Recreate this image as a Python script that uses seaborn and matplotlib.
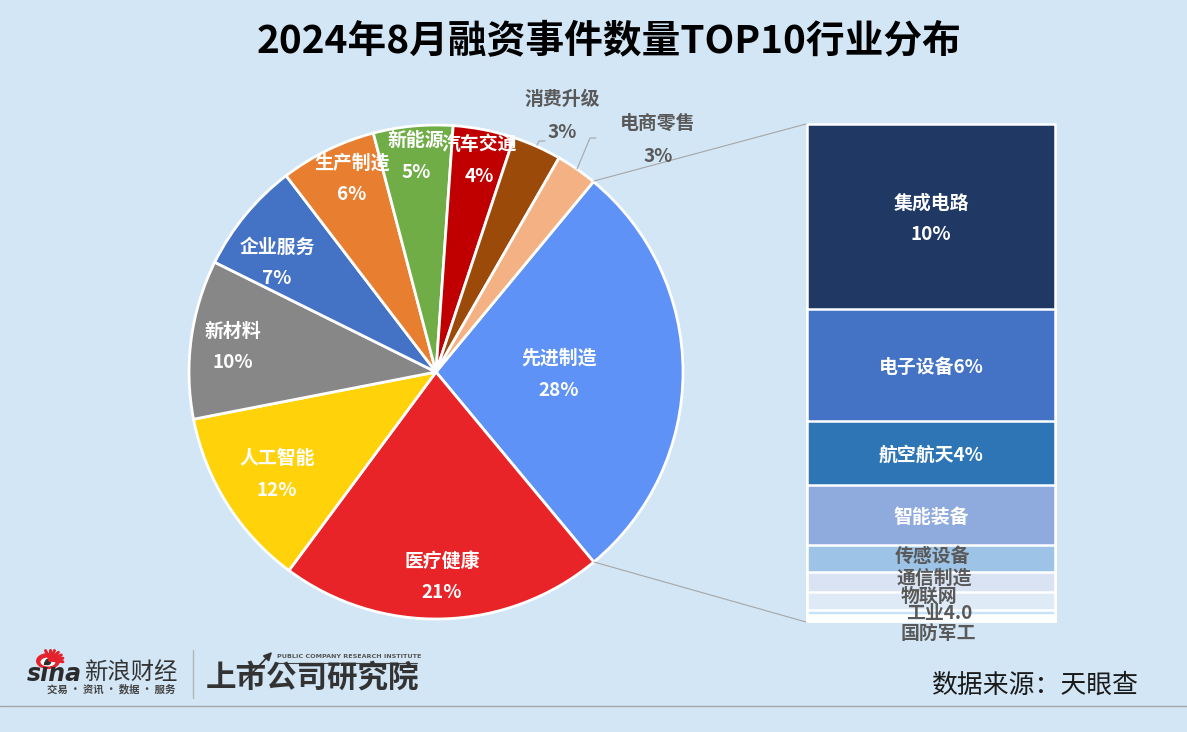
import matplotlib
matplotlib.use("Agg")
import matplotlib.pyplot as plt
import matplotlib.patches as mp
import seaborn as sns
import numpy as np

# 一级行业
pie_names = ["先进制造", "医疗健康", "人工智能", "新材料", "企业服务", "生产制造", "新能源", "汽车交通", "消费升级", "电商零售"]
pie_values = [28.0, 21.2, 11.8, 10.4, 7.3, 6.3, 5.2, 4.0, 3.2, 2.7]
pie_labels = ["28%", "21%", "12%", "10%", "7%", "6%", "5%", "4%", "3%", "3%"]
pie_colors = ["#5F92F7", "#E92428", "#FFD20A", "#878787", "#4472C4", "#E87E30", "#70AD47", "#C00000", "#9C4A0A", "#F4B183"]

# 先进制造细分
sub_names = ["集成电路", "电子设备", "航空航天", "智能装备", "传感设备", "通信制造", "物联网", "工业4.0", "国防军工"]
sub_values = [10.0, 6.0, 3.45, 3.25, 1.45, 1.08, 0.97, 0.25, 0.35]
sub_colors = ["#1F3864", "#4472C4", "#2E75B6", "#8FAADC", "#9DC3E6", "#DAE3F3", "#DEEBF7", "#C5E4F9", "#FFFFFF"]

BG = "#D2E6F5"
W, H = 1187, 732

sns.set_theme(style="white")
plt.rcParams["font.family"] = ["Noto Sans CJK SC", "DejaVu Sans"]

fig = plt.figure(figsize=(W / 100, H / 100), dpi=100, facecolor=BG)


def box(left, top, right, bottom):
    return [left / W, 1 - bottom / H, (right - left) / W, (bottom - top) / H]


# 上层用像素坐标画线和文字
over = fig.add_axes([0, 0, 1, 1], zorder=5)
over.set_xlim(0, W)
over.set_ylim(H, 0)
over.axis("off")
over.patch.set_alpha(0)

# 饼图
ax_pie = fig.add_axes(box(189, 125, 683, 619), zorder=1)
ax_pie.pie(pie_values, colors=sns.color_palette(pie_colors), startangle=50.4, counterclock=False,
           radius=1, wedgeprops={"edgecolor": "white", "linewidth": 2})
ax_pie.set_xlim(-1, 1)
ax_pie.set_ylim(-1, 1)

# 右侧堆叠柱
ax_bar = fig.add_axes(box(807, 124, 1055, 621), zorder=1)
cum = np.cumsum(sub_values[::-1])[::-1]
for name, c, col in zip(sub_names, cum, sub_colors):
    sns.barplot(x=["先进制造"], y=[c], color=col, width=1, saturation=1, edgecolor="white", linewidth=1.8, ax=ax_bar)
ax_bar.set_xlim(-0.5, 0.5)
ax_bar.set_ylim(0, cum[0])
ax_bar.axis("off")
for p in ax_bar.patches:
    p.set_clip_on(False)

white = {"color": "white", "fontsize": 13.6, "fontweight": "bold", "ha": "center", "va": "center"}
grey = {"color": "#595959", "fontsize": 13.6, "fontweight": "bold", "ha": "center", "va": "center"}

# 饼图标签的位置
name_pos = [(559, 358), (442, 561), (277, 459), (233, 331), (277, 247), (352, 163), (416, 140), (479, 145), (562, 99), (658, 123)]
pct_pos = [(559, 390), (442, 593), (277, 491), (233, 363), (277, 279), (352, 195), (416, 172), (479, 177), (562, 132), (658, 156)]
for i, (n, v) in enumerate(zip(pie_names, pie_labels)):
    st = grey if i >= 8 else white
    over.text(*name_pos[i], n, **st)
    over.text(*pct_pos[i], v, **st)

# 引导线
over.plot([537, 539, 545], [145, 141, 141], color="#A6A6A6", lw=0.8)
over.plot([577, 590, 596], [169, 138, 138], color="#A6A6A6", lw=0.8)
over.plot([594, 806], [181, 124], color="#A6A6A6", lw=0.8)
over.plot([594, 806], [562, 622], color="#A6A6A6", lw=0.8)

# 柱子标签
over.text(931, 203, "集成电路", **white)
over.text(931, 235, "10%", **white)
over.text(931, 367, "电子设备6%", **white)
over.text(931, 455, "航空航天4%", **white)
over.text(931, 517, "智能装备", **white)
over.text(933, 556, "传感设备", **grey)
over.text(934, 578, "通信制造", **grey)
over.text(929, 596, "物联网", **grey)
over.text(939, 614, "工业4.0", **grey)
over.text(938, 633, "国防军工", **grey)

# 标题和来源
over.text(609, 42, "2024年8月融资事件数量TOP10行业分布", fontsize=27.9, fontweight="bold", color="black", ha="center", va="center")
over.text(1035, 685, "数据来源：天眼查", fontsize=18.6, color="#1A1A1A", ha="center", va="center")

# 底部线
over.plot([0, W], [706, 706], color="#A6A6A6", lw=1)
over.plot([193, 193], [650, 698], color="#B5B5B5", lw=1)

# 新浪 logo
for a in np.linspace(-110, 10, 7):
    r = np.deg2rad(a)
    over.plot([50, 50 + 13 * np.cos(r)], [660, 660 + 10 * np.sin(r)], color="#E5212B", lw=2.2, solid_capstyle="round")
over.add_patch(mp.Ellipse((48, 661), 24, 16, fc="#E5212B", ec="none"))
over.add_patch(mp.Ellipse((48, 662), 15, 9, fc="white", ec="none"))
over.add_patch(mp.Circle((48, 662), 3.2, fc="#333333", ec="none"))
over.text(27, 674, "sina", fontsize=17, fontweight="bold", style="italic", color="#2B2B2B", ha="left", va="center", family="DejaVu Sans")
over.text(84, 672, "新浪财经", fontsize=16.8, color="#333333", ha="left", va="center")
over.text(47, 689, "交易 · 资讯 · 数据 · 服务", fontsize=7.5, fontweight="bold", color="#444444", ha="left", va="center")

# 上市公司研究院 logo
over.text(206, 678, "上市公司研究院", fontsize=22, fontweight="black", style="italic", color="#333333", ha="left", va="center")
over.text(277, 656, "PUBLIC COMPANY RESEARCH INSTITUTE", fontsize=4.55, fontweight="bold", color="#555555", ha="left", va="center", family="DejaVu Sans")
over.plot([277, 417], [663, 663], color="#444444", lw=0.8)
over.annotate("", xy=(274, 650), xytext=(240, 686), arrowprops=dict(arrowstyle="-|>", color="#333333", lw=1.2))

fig.savefig("out.png", dpi=100, facecolor=BG)
